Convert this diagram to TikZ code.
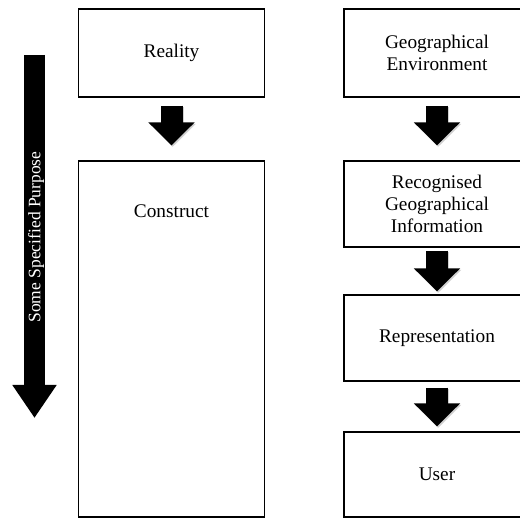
\documentclass[tikz,border=0pt]{standalone}
\usepackage{fontspec}
\setmainfont{Liberation Serif}
\usetikzlibrary{arrows.meta}
\begin{document}
\begin{tikzpicture}[x=1pt,y=-1pt,
  box/.style={draw=black, line width=1.3pt, minimum width=186pt, inner sep=0pt,
    align=center, font=\fontsize{19.3}{21.7}\selectfont},
  boxtext/.style={inner sep=0pt, align=center, font=\fontsize{19.3}{21.7}\selectfont},
  blockarrow/.style={draw=black, line width=22pt, -{Triangle[width=45pt,length=23pt]}},
  arrowshadow/.style={blockarrow, draw=black!60, opacity=0.3,
    transform canvas={shift={(1.2pt,-1.5pt)}}},
  purposearrow/.style={draw=black, line width=21pt, -{Triangle[width=42pt,length=33pt]}},
]
\useasboundingbox (0,0) rectangle (520,518);

% left column: reality and its construct
\node[box, minimum height=88pt] (reality) at (171.5,53) {Reality};
\node[box, minimum height=356pt] (construct) at (171.5,339) {};
\node[boxtext] (constructlabel) at (171.5,211) {Construct};

% right column: from environment to user
\node[box, minimum height=88pt] (geo) at (437,53) {Geographical\\Environment};
\node[box, minimum height=86pt] (recog) at (437,204) {Recognised\\Geographical\\Information};
\node[box, minimum height=86pt] (repr) at (437,338) {Representation};
\node[box, minimum height=85pt] (user) at (437,474.5) {User};

% block arrows between the boxes, each with a soft shadow
\draw[arrowshadow] ([yshift=-8pt]reality.south) -- ([yshift=15pt]construct.north);
\draw[blockarrow]  ([yshift=-8pt]reality.south) -- ([yshift=15pt]construct.north);
\draw[arrowshadow] ([yshift=-8pt]geo.south) -- ([yshift=15pt]recog.north);
\draw[blockarrow]  ([yshift=-8pt]geo.south) -- ([yshift=15pt]recog.north);
\draw[arrowshadow] ([yshift=-3pt]recog.south) -- ([yshift=3pt]repr.north);
\draw[blockarrow]  ([yshift=-3pt]recog.south) -- ([yshift=3pt]repr.north);
\draw[arrowshadow] ([yshift=-6pt]repr.south) -- ([yshift=5pt]user.north);
\draw[blockarrow]  ([yshift=-6pt]repr.south) -- ([yshift=5pt]user.north);

% the long arrow on the left with its label
\coordinate (purposetop) at (34.5,55);
\coordinate (purposeend) at (34.5,418);
\draw[purposearrow] (purposetop) -- (purposeend);
\node[rotate=90, text=white, inner sep=0pt, font=\fontsize{17.5}{20}\selectfont]
  (purpose) at (36,237) {Some Specified Purpose};
\end{tikzpicture}
\end{document}
